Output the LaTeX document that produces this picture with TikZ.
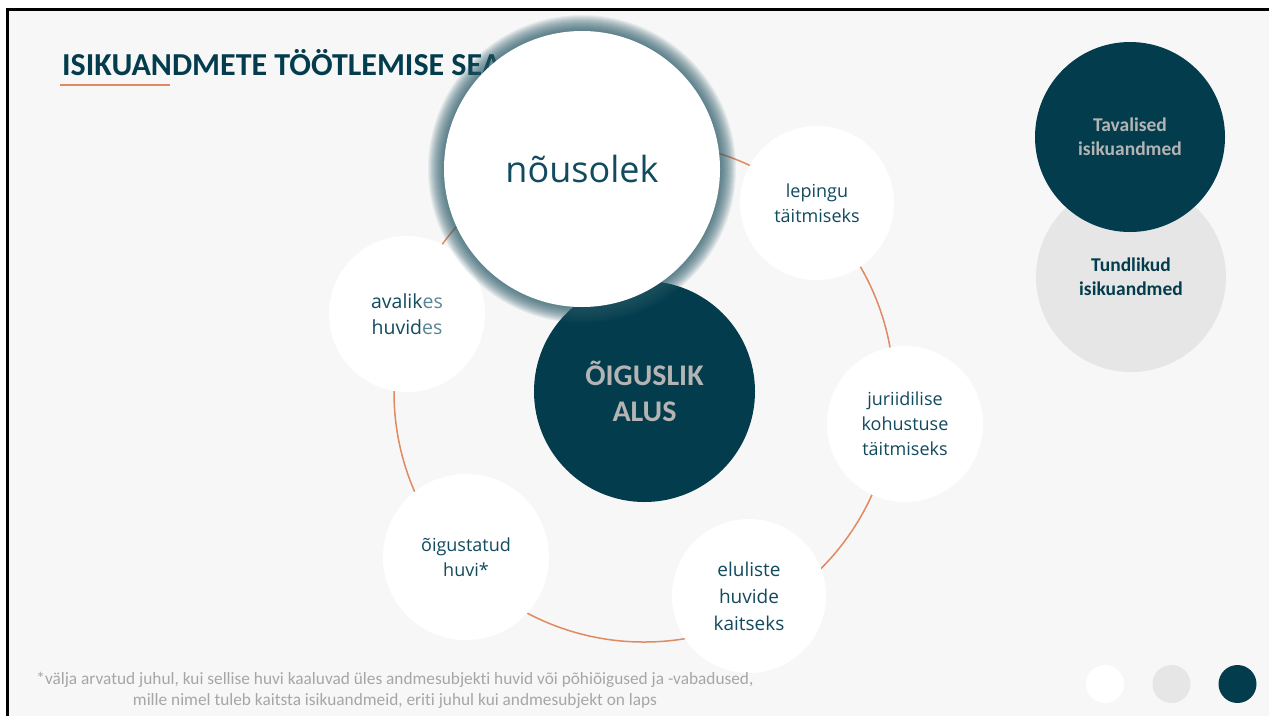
\documentclass[tikz,border=0pt]{standalone}
\usepackage{fontspec}
\setmainfont{Open Sans}
\newfontfamily\carl[Ligatures=NoCommon]{Carlito}
\definecolor{dteal}{HTML}{033D4D}
\definecolor{txtteal}{HTML}{124A5E}
\definecolor{fadeteal}{HTML}{5A8593}
\definecolor{bgc}{HTML}{F7F7F7}
\definecolor{lgray}{HTML}{E6E6E6}
\definecolor{ltext}{HTML}{B4B4B4}
\definecolor{ringc}{HTML}{E08A62}
\definecolor{notec}{HTML}{A6A6A6}
\begin{document}
\begin{tikzpicture}[x=1pt,y=-1pt,
  bub/.style={circle, fill=white, inner sep=0pt, minimum size=154pt, align=center,
    text=txtteal, font=\fontsize{18}{25}\selectfont},
  darkbub/.style={circle, fill=dteal, inner sep=0pt, align=center},
  dot/.style={circle, inner sep=0pt, minimum size=38pt}
]
\useasboundingbox (0,0) rectangle (1269,716);
\fill[white] (0,0) rectangle (1269,716);
\fill[bgc] (7.5,9.5) rectangle (1269,716);
\draw[black, line width=3pt] (7.5,716) -- (7.5,9.5) -- (1269,9.5);

% title
\node[anchor=base west, inner sep=0pt, text=dteal,
  font=\carl\bfseries\fontsize{32}{40}\selectfont] (title) at (62,75) {ISIKUANDMETE TÖÖTLEMISE SEA};
\coordinate (ul1) at (60,85);
\coordinate (ul2) at (170,85);
\draw[ringc, line width=2pt] (ul1) -- (ul2);

% ring
\coordinate (rc) at (644,392);
\draw[ringc, line width=1.5pt] (rc) circle (250pt);

% outer bubbles
\node[bub] (lep) at (817,203) {lepingu\\täitmiseks};
\node[bub, minimum size=156pt] (jur) at (905,424) {juriidilise\\kohustuse\\täitmiseks};
\node[bub, font=\fontsize{19}{27}\selectfont] (elu) at (749,596) {eluliste\\huvide\\kaitseks};
\node[bub, minimum size=166pt] (oig) at (466,557) {õigustatud\\huvi*};
\node[bub, minimum size=156pt, font=\fontsize{19.5}{26}\selectfont] (ava) at (407,314)
  {avalik{\color{fadeteal}es}\\huvid{\color{fadeteal}es}};

% central dark
\node[darkbub, minimum size=221pt, text=ltext,
  font=\carl\bfseries\fontsize{30}{36}\selectfont] (alus) at (644.5,391.5) {ÕIGUSLIK\\ALUS};

% nousolek glow + circle
\coordinate (nc) at (582,169);
\foreach \k in {1,...,17}{
  \fill[dteal!85!white, opacity=0.075] (nc) circle ({137pt+\k*1pt});
}
\node[circle, fill=white, inner sep=0pt, minimum size=276pt, text=txtteal,
  font=\fontsize{36}{40}\selectfont] (nous) at (nc) {nõusolek};

% right legend circles
\node[circle, fill=lgray, inner sep=0pt, minimum size=190pt, align=center, text=dteal,
  font=\carl\bfseries\fontsize{19.5}{24}\selectfont] (tund) at (1131,277) {Tundlikud\\isikuandmed};
\node[darkbub, minimum size=190pt, text=ltext,
  font=\carl\bfseries\fontsize{19.5}{24}\selectfont] (tav) at (1130,137) {Tavalised\\isikuandmed};

% footnote
\node[align=center, text=notec, inner sep=0pt,
  font=\carl\fontsize{17.3}{21}\selectfont] (note) at (395,690)
  {*välja arvatud juhul, kui sellise huvi kaaluvad üles andmesubjekti huvid või põhiõigused ja -vabadused,\\
   mille nimel tuleb kaitsta isikuandmeid, eriti juhul kui andmesubjekt on laps};

% bottom dots
\node[dot, fill=white] (d1) at (1105,684) {};
\node[dot, fill=lgray] (d2) at (1171.5,684) {};
\node[dot, fill=dteal] (d3) at (1237.5,684) {};
\end{tikzpicture}
\end{document}
